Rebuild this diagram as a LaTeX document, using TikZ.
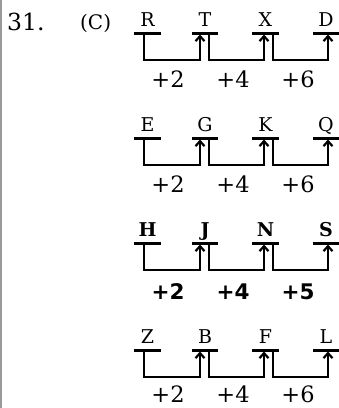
\documentclass[tikz,border=0pt]{standalone}
\usepackage{fontspec}
\setmainfont{DejaVu Serif}
\newfontfamily\labelsans{DejaVu Sans}
\usetikzlibrary{arrows.meta,positioning}

\begin{document}
\begin{tikzpicture}[x=1pt,y=-1pt,
  letter/.style={anchor=south,minimum width=26pt,inner xsep=0pt,inner ysep=6pt,
    text depth=0pt,font=\fontsize{19}{19}\selectfont},
  bar/.style={line width=3pt},
  link/.style={line width=2.2pt},
  hop/.style={link,-{Straight Barb[length=5pt,width=9pt]},shorten >=1.5pt},
  gain/.style={anchor=base,inner sep=0pt,font=\fontsize{22.5}{22.5}\selectfont},
  boldgain/.style={gain,font=\labelsans\bfseries\fontsize{21.5}{21.5}\selectfont}]
  \useasboundingbox (0,0) rectangle (339,408);
  % left margin rule
  \draw[gray!80,line width=1.5pt] (1,0) -- (1,408);
  % question number and option
  \node[anchor=base west,inner sep=0pt,font=\fontsize{23.5}{23.5}\selectfont] (num) at (7,30) {31.};
  \node[anchor=base west,inner sep=0pt,font=\fontsize{20}{20}\selectfont] (opt) at (80,29) {(C)};
  % row 1
  \node[letter] (R) at (147.5,33) {R};
  \node[letter] (T) at (205,33) {T};
  \node[letter] (X) at (265.5,33) {X};
  \node[letter] (D) at (326,33) {D};
  \draw[hop] ([xshift=-3.5pt]R.south) -- ++(0,27) -| ([xshift=-5pt]T.south);
  \draw[hop] ([xshift=4pt]T.south) -- ++(0,27) -| ([xshift=-1.5pt]X.south);
  \draw[hop] ([xshift=7.5pt]X.south) -- ++(0,27) -| ([xshift=2pt]D.south);
  \node[gain] (s1a) at (168,87) {+2};
  \node[gain] (s1b) at (233,87) {+4};
  \node[gain] (s1c) at (298,87) {+6};
  % row 2
  \node[letter] (E) at (147.5,138) {E};
  \node[letter] (G) at (205,138) {G};
  \node[letter] (K) at (265.5,138) {K};
  \node[letter] (Q) at (326,138) {Q};
  \draw[hop] ([xshift=-3.5pt]E.south) -- ++(0,27) -| ([xshift=-5pt]G.south);
  \draw[hop] ([xshift=4pt]G.south) -- ++(0,27) -| ([xshift=-1.5pt]K.south);
  \draw[hop] ([xshift=7.5pt]K.south) -- ++(0,27) -| ([xshift=2pt]Q.south);
  \node[gain] (s2a) at (168,192) {+2};
  \node[gain] (s2b) at (233,192) {+4};
  \node[gain] (s2c) at (298,192) {+6};
  % row 3 (the odd one, in bold)
  \node[letter,font=\bfseries\fontsize{19}{19}\selectfont] (H) at (147.5,243) {H};
  \node[letter,font=\bfseries\fontsize{19}{19}\selectfont] (J) at (205,243) {J};
  \node[letter,font=\bfseries\fontsize{19}{19}\selectfont] (N) at (265.5,243) {N};
  \node[letter,font=\bfseries\fontsize{19}{19}\selectfont] (S) at (326,243) {S};
  \draw[hop] ([xshift=-3.5pt]H.south) -- ++(0,27) -| ([xshift=-5pt]J.south);
  \draw[hop] ([xshift=4pt]J.south) -- ++(0,27) -| ([xshift=-1.5pt]N.south);
  \draw[hop] ([xshift=7.5pt]N.south) -- ++(0,27) -| ([xshift=2pt]S.south);
  \node[boldgain] (s3a) at (168,299) {+2};
  \node[boldgain] (s3b) at (233,299) {+4};
  \node[boldgain] (s3c) at (298,299) {+5};
  % row 4
  \node[letter] (Z) at (147.5,350) {Z};
  \node[letter] (B) at (205,350) {B};
  \node[letter] (F) at (265.5,350) {F};
  \node[letter] (L) at (326,350) {L};
  \draw[hop] ([xshift=-3.5pt]Z.south) -- ++(0,27) -| ([xshift=-5pt]B.south);
  \draw[hop] ([xshift=4pt]B.south) -- ++(0,27) -| ([xshift=-1.5pt]F.south);
  \draw[hop] ([xshift=7.5pt]F.south) -- ++(0,27) -| ([xshift=2pt]L.south);
  \node[gain] (s4a) at (168,402) {+2};
  \node[gain] (s4b) at (233,402) {+4};
  \node[gain] (s4c) at (298,402) {+6};
  % bars under the letters
  \foreach \n in {R,T,X,D,E,G,K,Q,H,J,N,S,Z,B,F,L}
    \draw[bar] (\n.south west) -- (\n.south east);
\end{tikzpicture}
\end{document}
